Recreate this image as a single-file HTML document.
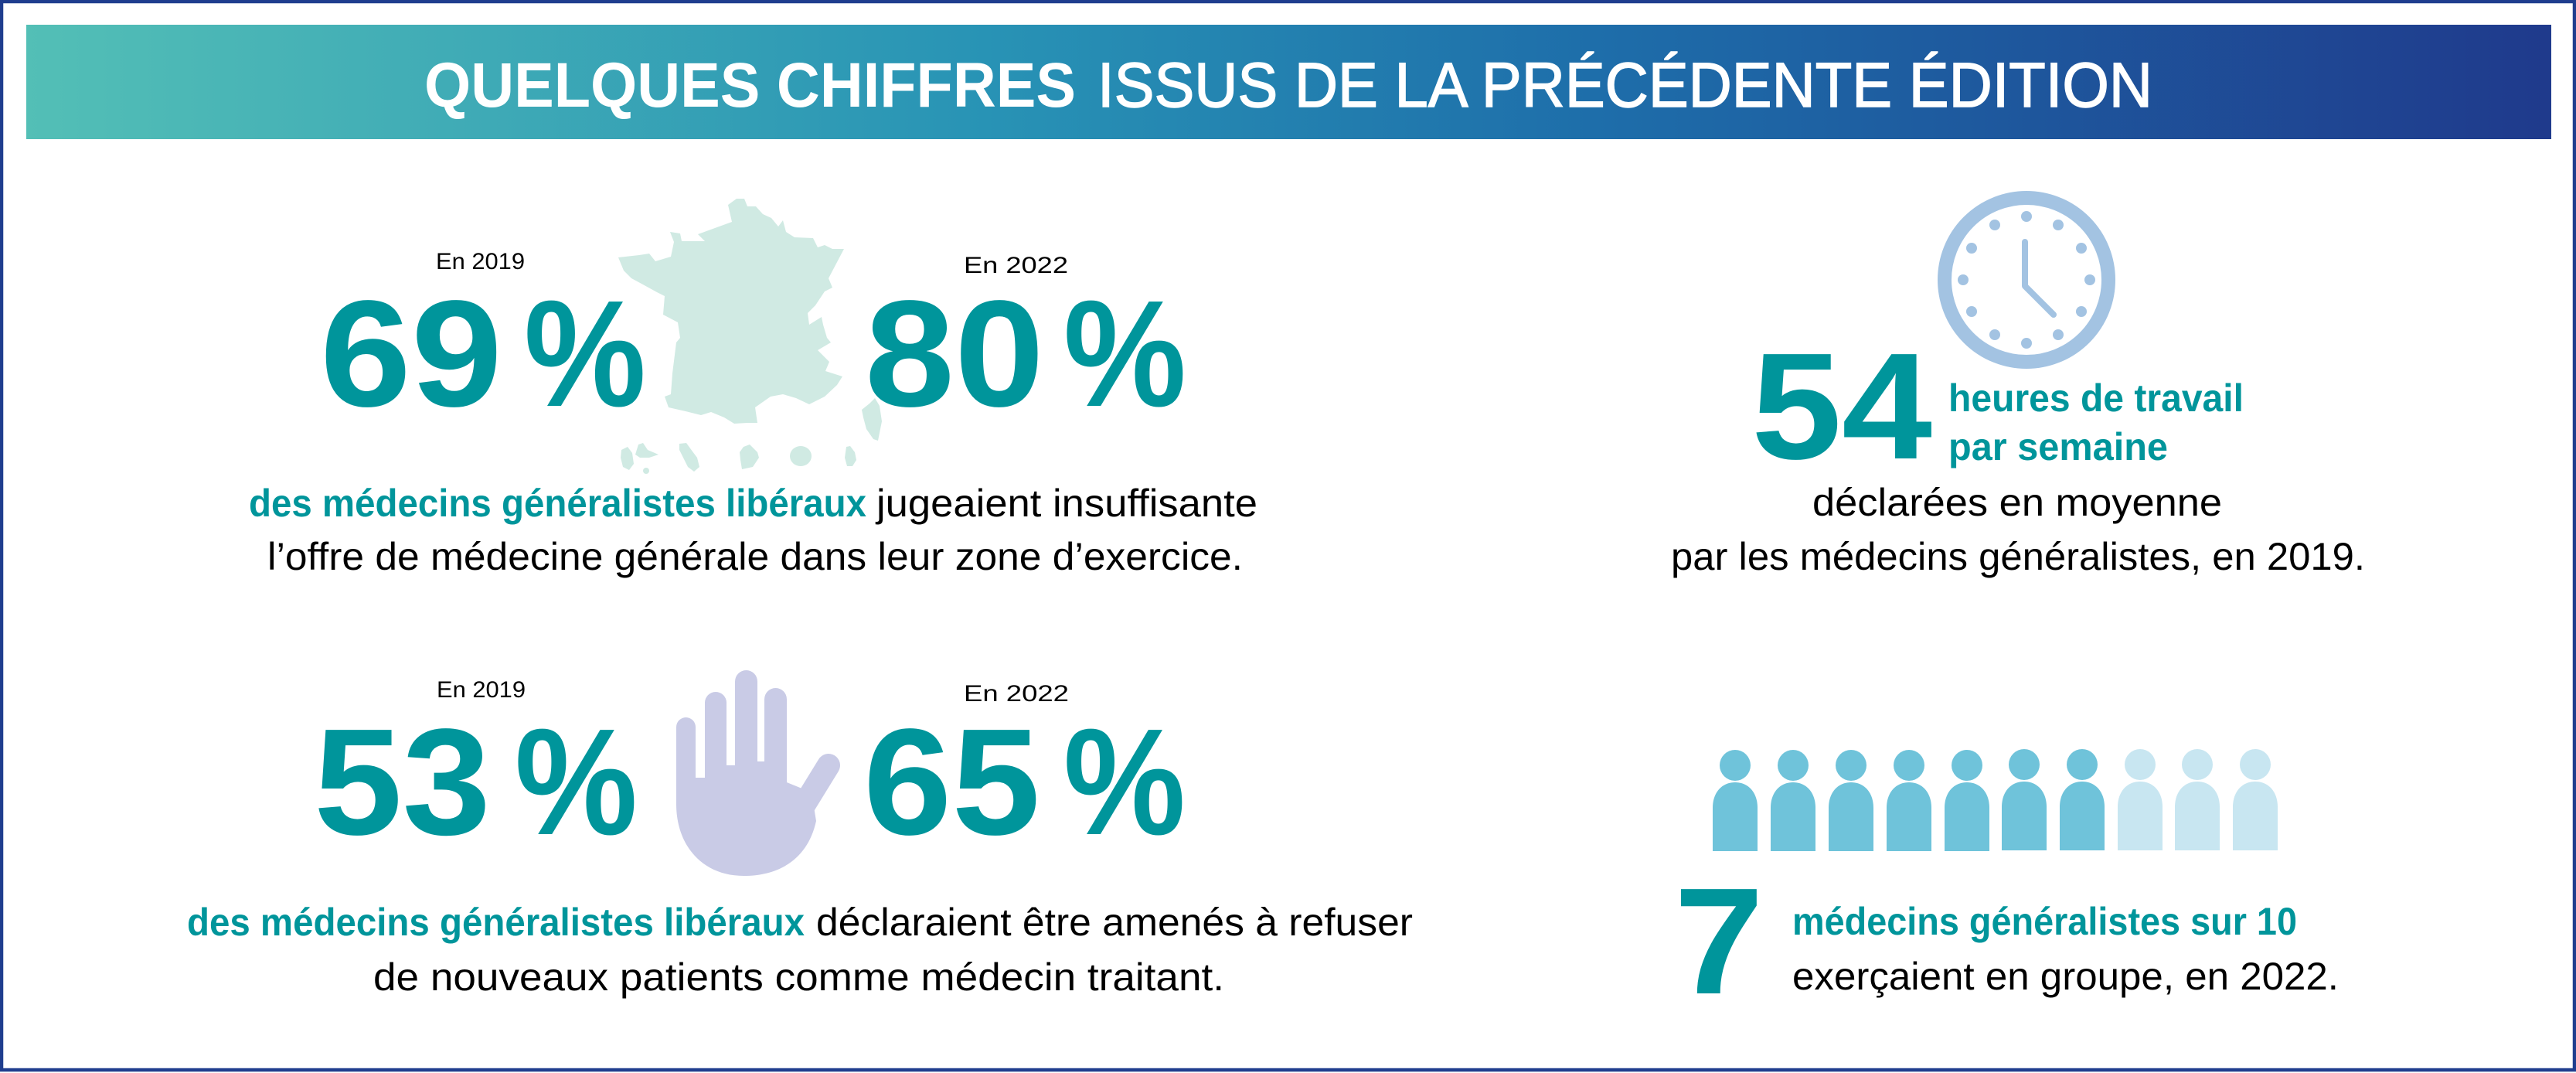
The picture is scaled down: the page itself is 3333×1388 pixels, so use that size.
<!DOCTYPE html>
<html>
<head>
<meta charset="utf-8">
<style>
html,body{margin:0;padding:0;background:#fff;}
svg{display:block;}
text{font-family:"Liberation Sans",Arial,sans-serif;}
</style>
</head>
<body>
<svg width="3333" height="1388" viewBox="0 0 3333 1388" xmlns="http://www.w3.org/2000/svg">
<defs>
<linearGradient id="bg" x1="0" y1="0" x2="1" y2="0">
<stop offset="0" stop-color="#53bfb6"/>
<stop offset="0.38" stop-color="#2893b5"/>
<stop offset="0.62" stop-color="#1e6eaa"/>
<stop offset="1" stop-color="#1f3a8c"/>
</linearGradient>
</defs>
<rect x="0" y="0" width="3333" height="1388" fill="#fff"/>
<rect x="2" y="2" width="3329" height="1382" fill="none" stroke="#1f3d8e" stroke-width="4.5"/>

<!-- Banner -->
<rect x="34" y="32" width="3267" height="148" fill="url(#bg)"/>
<text x="549" y="138" font-size="82" font-weight="bold" fill="#fff" textLength="843" lengthAdjust="spacingAndGlyphs">QUELQUES CHIFFRES</text>
<text x="1420" y="138" font-size="82" fill="#fff" stroke="#fff" stroke-width="1.5" textLength="1365" lengthAdjust="spacingAndGlyphs">ISSUS DE LA PRÉCÉDENTE ÉDITION</text>

<!-- France map -->
<g fill="#d0eae3">
<path d="M953,257 L963,257 L967,267 L978,267 L987,277 L998,282 L1007,293 L1013,285 L1017,300 L1028,307 L1052,308 L1058,320 L1067,317 L1077,322 L1092,322 L1072,360 L1077,372 L1067,377 L1055,395 L1045,405 L1047,420 L1063,410 L1065,420 L1070,437 L1075,443 L1058,453 L1073,468 L1068,480 L1090,487 L1083,498 L1067,513 L1047,523 L1030,515 L1013,510 L997,513 L977,527 L980,547 L967,547 L950,548 L937,540 L920,533 L907,537 L887,532 L865,527 L860,513 L868,510 L870,483 L875,443 L880,437 L877,417 L858,407 L860,383 L850,378 L830,367 L817,360 L807,350 L800,333 L827,330 L840,328 L848,338 L868,332 L872,313 L867,300 L880,302 L882,312 L912,312 L903,303 L947,287 L942,265 Z"/>
<path d="M1132,515 L1138,525 L1141,545 L1136,570 L1130,568 L1121,555 L1117,540 L1115,530 L1125,522 Z"/>
<path d="M804,582 L812,578 L818,586 L820,600 L814,608 L806,604 L803,592 Z"/>
<path d="M822,588 L826,575 L832,573 L838,582 L852,588 L840,592 L828,592 Z"/>
<circle cx="836" cy="609" r="4"/>
<path d="M879,574 L888,573 L896,584 L902,592 L905,604 L898,610 L890,604 L884,592 L879,582 Z"/>
<path d="M962,578 L970,575 L980,585 L982,592 L974,604 L960,607 L958,595 L957,585 Z"/>
<ellipse cx="1036" cy="590" rx="14" ry="13"/>
<path d="M1095,578 L1100,577 L1106,585 L1108,595 L1103,603 L1096,603 L1093,592 Z"/>
</g>

<!-- Section 1 -->
<text x="564" y="348" font-size="30" fill="#000" textLength="115" lengthAdjust="spacingAndGlyphs">En 2019</text>
<text x="1247" y="353" font-size="30" fill="#000" textLength="135" lengthAdjust="spacingAndGlyphs">En 2022</text>
<g fill="#00959b" font-weight="bold" font-size="196">
<text x="414" y="525" textLength="236" lengthAdjust="spacingAndGlyphs">69</text>
<text x="678" y="525" textLength="158" lengthAdjust="spacingAndGlyphs">%</text>
<text x="1119" y="525" textLength="232" lengthAdjust="spacingAndGlyphs">80</text>
<text x="1376" y="525" textLength="159" lengthAdjust="spacingAndGlyphs">%</text>
</g>
<text x="322" y="668" font-size="50" font-weight="bold" fill="#00959b" textLength="799" lengthAdjust="spacingAndGlyphs">des médecins généralistes libéraux</text>
<text x="1134" y="668" font-size="50" fill="#000" textLength="493" lengthAdjust="spacingAndGlyphs">jugeaient insuffisante</text>
<text x="346" y="737" font-size="50" fill="#000" textLength="1262" lengthAdjust="spacingAndGlyphs">l’offre de médecine générale dans leur zone d’exercice.</text>

<!-- Clock -->
<g>
<circle cx="2622" cy="362" r="106" fill="none" stroke="#a3c3e2" stroke-width="18"/>
<g fill="#a3c3e2">
<circle cx="2622" cy="280" r="7"/>
<circle cx="2663" cy="291" r="7"/>
<circle cx="2693" cy="321" r="7"/>
<circle cx="2704" cy="362" r="7"/>
<circle cx="2693" cy="403" r="7"/>
<circle cx="2663" cy="433" r="7"/>
<circle cx="2622" cy="444" r="7"/>
<circle cx="2581" cy="433" r="7"/>
<circle cx="2551" cy="403" r="7"/>
<circle cx="2540" cy="362" r="7"/>
<circle cx="2551" cy="321" r="7"/>
<circle cx="2581" cy="291" r="7"/>
</g>
<path d="M2620,313 L2620,370 L2657,407" fill="none" stroke="#a3c3e2" stroke-width="8" stroke-linecap="round" stroke-linejoin="round"/>
</g>

<!-- Section 2: 54 -->
<text x="2266" y="593" font-size="196" font-weight="bold" fill="#00959b" textLength="234" lengthAdjust="spacingAndGlyphs">54</text>
<text x="2521" y="532" font-size="50" font-weight="bold" fill="#00959b" textLength="382" lengthAdjust="spacingAndGlyphs">heures de travail</text>
<text x="2521" y="595" font-size="50" font-weight="bold" fill="#00959b" textLength="284" lengthAdjust="spacingAndGlyphs">par semaine</text>
<text x="2345" y="667" font-size="50" fill="#000" textLength="530" lengthAdjust="spacingAndGlyphs">déclarées en moyenne</text>
<text x="2162" y="737" font-size="50" fill="#000" textLength="898" lengthAdjust="spacingAndGlyphs">par les médecins généralistes, en 2019.</text>

<!-- Hand -->
<g fill="#c9cbe6">
<rect x="875" y="928" width="25" height="100" rx="12.5"/>
<rect x="912" y="895" width="28" height="120" rx="14"/>
<rect x="951" y="867" width="29" height="140" rx="14.5"/>
<rect x="989" y="890" width="29" height="140" rx="14.5"/>
<path d="M875,1000 L900,1000 L900,1006 L912,1006 L912,998 L940,998 L940,990 L951,990 L951,985 L1018,985 L1018,1012 L1050,1025 L1056,1062 C1046,1108 1012,1133 962,1133 C910,1133 875,1095 875,1040 Z"/>
<line x1="1040" y1="1042" x2="1072" y2="990" stroke="#c9cbe6" stroke-width="30" stroke-linecap="round"/>
</g>

<!-- Section 3 -->
<text x="565" y="902" font-size="30" fill="#000" textLength="115" lengthAdjust="spacingAndGlyphs">En 2019</text>
<text x="1247" y="907" font-size="30" fill="#000" textLength="136" lengthAdjust="spacingAndGlyphs">En 2022</text>
<g fill="#00959b" font-weight="bold" font-size="196">
<text x="406" y="1079" textLength="229" lengthAdjust="spacingAndGlyphs">53</text>
<text x="666" y="1079" textLength="159" lengthAdjust="spacingAndGlyphs">%</text>
<text x="1117" y="1079" textLength="229" lengthAdjust="spacingAndGlyphs">65</text>
<text x="1376" y="1079" textLength="158" lengthAdjust="spacingAndGlyphs">%</text>
</g>
<text x="242" y="1210" font-size="50" font-weight="bold" fill="#00959b" textLength="799" lengthAdjust="spacingAndGlyphs">des médecins généralistes libéraux</text>
<text x="1056" y="1210" font-size="50" fill="#000" textLength="772" lengthAdjust="spacingAndGlyphs">déclaraient être amenés à refuser</text>
<text x="483" y="1281" font-size="50" fill="#000" textLength="1101" lengthAdjust="spacingAndGlyphs">de nouveaux patients comme médecin traitant.</text>

<!-- People -->
<g>
<g fill="#6fc3da">
<circle cx="2245" cy="990" r="20"/><path d="M2216,1101 V1045 C2216,1025 2228,1012 2245,1012 C2262,1012 2274,1025 2274,1045 V1101 Z"/>
<circle cx="2320" cy="990" r="20"/><path d="M2291,1101 V1045 C2291,1025 2303,1012 2320,1012 C2337,1012 2349,1025 2349,1045 V1101 Z"/>
<circle cx="2395" cy="990" r="20"/><path d="M2366,1101 V1045 C2366,1025 2378,1012 2395,1012 C2412,1012 2424,1025 2424,1045 V1101 Z"/>
<circle cx="2470" cy="990" r="20"/><path d="M2441,1101 V1045 C2441,1025 2453,1012 2470,1012 C2487,1012 2499,1025 2499,1045 V1101 Z"/>
<circle cx="2545" cy="990" r="20"/><path d="M2516,1101 V1045 C2516,1025 2528,1012 2545,1012 C2562,1012 2574,1025 2574,1045 V1101 Z"/>
<circle cx="2619" cy="989" r="20"/><path d="M2590,1100 V1044 C2590,1024 2602,1011 2619,1011 C2636,1011 2648,1024 2648,1044 V1100 Z"/>
<circle cx="2694" cy="989" r="20"/><path d="M2665,1100 V1044 C2665,1024 2677,1011 2694,1011 C2711,1011 2723,1024 2723,1044 V1100 Z"/>
</g>
<g fill="#c8e6f1">
<circle cx="2769" cy="989" r="20"/><path d="M2740,1100 V1044 C2740,1024 2752,1011 2769,1011 C2786,1011 2798,1024 2798,1044 V1100 Z"/>
<circle cx="2843" cy="989" r="20"/><path d="M2814,1100 V1044 C2814,1024 2826,1011 2843,1011 C2860,1011 2872,1024 2872,1044 V1100 Z"/>
<circle cx="2918" cy="989" r="20"/><path d="M2889,1100 V1044 C2889,1024 2901,1011 2918,1011 C2935,1011 2947,1024 2947,1044 V1100 Z"/>
</g>
</g>

<!-- Section 4 -->
<text x="2166" y="1285" font-size="196" font-weight="bold" fill="#00959b" textLength="116" lengthAdjust="spacingAndGlyphs">7</text>
<text x="2319" y="1209" font-size="50" font-weight="bold" fill="#00959b" textLength="653" lengthAdjust="spacingAndGlyphs">médecins généralistes sur 10</text>
<text x="2319" y="1280" font-size="50" fill="#000" textLength="707" lengthAdjust="spacingAndGlyphs">exerçaient en groupe, en 2022.</text>
</svg>
</body>
</html>
